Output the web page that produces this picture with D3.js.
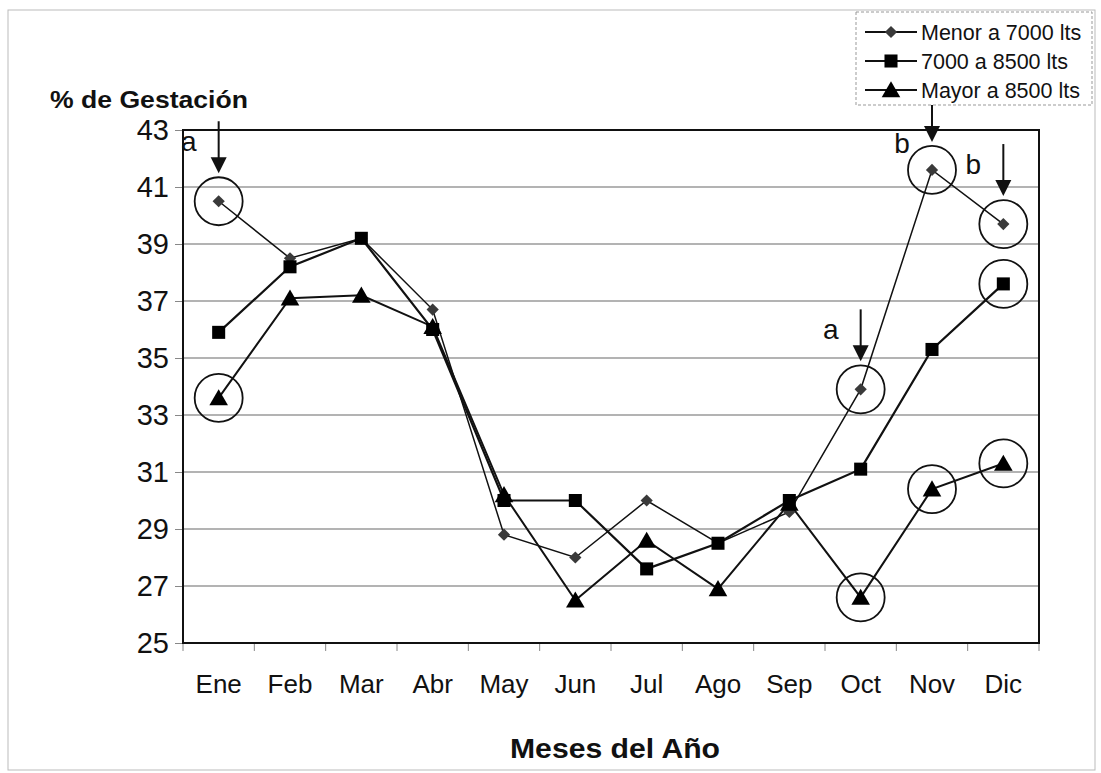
<!DOCTYPE html>
<html>
<head>
<meta charset="utf-8">
<script src="https://cdn.jsdelivr.net/npm/d3@7"></script>
<style>
  body { margin: 0; background: #fff; }
  text { font-family: "Liberation Sans", Arial, sans-serif; fill: #111; }
</style>
</head>
<body>
<div id="chart"></div>
<script>

// data
const months = ["Ene", "Feb", "Mar", "Abr", "May", "Jun", "Jul", "Ago", "Sep", "Oct", "Nov", "Dic"];
const seriesNames = ["Menor a 7000 lts", "7000 a 8500 lts", "Mayor a 8500 lts"];
const menor = [40.5, 38.5, 39.2, 36.7, 28.8, 28.0, 30.0, 28.5, 29.6, 33.9, 41.6, 39.7];
const medio = [35.9, 38.2, 39.2, 36.0, 30.0, 30.0, 27.6, 28.5, 30.0, 31.1, 35.3, 37.6];
const mayor = [33.6, 37.1, 37.2, 36.1, 30.2, 26.5, 28.6, 26.9, 29.9, 26.6, 30.4, 31.3];
const yTicks = [25, 27, 29, 31, 33, 35, 37, 39, 41, 43];

// circled points (series index, month) and arrows with letters
const circled = [[0, "Ene"], [2, "Ene"], [0, "Oct"], [2, "Oct"], [0, "Nov"], [2, "Nov"], [0, "Dic"], [1, "Dic"], [2, "Dic"]];
const arrows = [[0, "Ene", "a"], [0, "Oct", "a"], [0, "Nov", "b"], [0, "Dic", "b"]];

const allSeries = [menor, medio, mayor];

const width = 1101;
const height = 773;
const plot = { left: 183, right: 1039, top: 130, bottom: 643 };

const svg = d3.select("#chart").append("svg")
	.attr("width", width)
	.attr("height", height);

const x = d3.scaleBand().domain(months).range([plot.left, plot.right]);
const y = d3.scaleLinear().domain([25, 43]).range([plot.bottom, plot.top]);
const cx = m => x(m) + x.bandwidth() / 2;

// outer frame
svg.append("rect")
	.attr("x", 8).attr("y", 10)
	.attr("width", 1087).attr("height", 760)
	.attr("fill", "none")
	.attr("stroke", "#bbb")
	.attr("stroke-width", 1);

// grid lines
svg.append("g")
	.selectAll("line")
	.data(yTicks.filter(d => d > 25 && d < 43))
	.enter().append("line")
		.attr("x1", plot.left).attr("x2", plot.right)
		.attr("y1", d => y(d)).attr("y2", d => y(d))
		.attr("stroke", "#9a9a9a")
		.attr("stroke-width", 1.3);

// y axis
const yAxis = svg.append("g")
	.attr("transform", `translate(${plot.left},0)`)
	.call(d3.axisLeft(y).tickValues(yTicks).tickSize(8).tickPadding(6));
yAxis.select(".domain").remove();
yAxis.selectAll(".tick line").attr("stroke", "#888");
yAxis.selectAll(".tick text")
	.style("font-size", "29px")
	.style("font-family", "Liberation Sans, Arial, sans-serif")
	.attr("fill", "#111");

// x axis labels
const xAxis = svg.append("g")
	.attr("transform", `translate(0,${plot.bottom})`)
	.call(d3.axisBottom(x).tickSize(0).tickPadding(32));
xAxis.select(".domain").remove();
xAxis.selectAll(".tick text")
	.style("font-size", "26px")
	.style("font-family", "Liberation Sans, Arial, sans-serif")
	.attr("fill", "#111");

// x ticks at category boundaries
svg.append("g")
	.selectAll("line")
	.data(months.map(m => x(m)).concat([plot.right]))
	.enter().append("line")
		.attr("x1", d => d).attr("x2", d => d)
		.attr("y1", plot.bottom).attr("y2", plot.bottom + 8)
		.attr("stroke", "#888");

// plot border
svg.append("rect")
	.attr("x", plot.left).attr("y", plot.top)
	.attr("width", plot.right - plot.left).attr("height", plot.bottom - plot.top)
	.attr("fill", "none")
	.attr("stroke", "#111")
	.attr("stroke-width", 2);

// titles
svg.append("text")
	.attr("x", 50).attr("y", 108)
	.attr("textLength", 198)
	.attr("lengthAdjust", "spacingAndGlyphs")
	.style("font-size", "24px")
	.style("font-weight", "bold")
	.text("% de Gestación");

svg.append("text")
	.attr("x", 510).attr("y", 758)
	.attr("textLength", 210)
	.attr("lengthAdjust", "spacingAndGlyphs")
	.style("font-size", "28px")
	.style("font-weight", "bold")
	.text("Meses del Año");

// symbols
const symbols = [d3.symbolSquare, d3.symbolSquare, d3.symbolTriangle];
const symSize = [75, 170, 150];
const symRot = [45, 0, 0];
const symFill = ["#3a3a3a", "#000", "#000"];
const lineW = [1.5, 2.2, 2];

const line = d3.line()
	.x((d, i) => cx(months[i]))
	.y(d => y(d));

allSeries.forEach((vals, s) => {
	svg.append("path")
		.datum(vals)
		.attr("d", line)
		.attr("fill", "none")
		.attr("stroke", "#111")
		.attr("stroke-width", lineW[s]);
});

allSeries.forEach((vals, s) => {
	svg.append("g")
		.selectAll("path")
		.data(vals)
		.enter().append("path")
			.attr("d", d3.symbol().type(symbols[s]).size(symSize[s]))
			.attr("transform", (d, i) => `translate(${cx(months[i])},${y(d) + (s === 2 ? 2 : 0)}) rotate(${symRot[s]})`)
			.attr("fill", symFill[s]);
});

// circles round the marked points
svg.append("g")
	.selectAll("circle")
	.data(circled)
	.enter().append("circle")
		.attr("cx", d => cx(d[1]))
		.attr("cy", d => y(allSeries[d[0]][months.indexOf(d[1])]))
		.attr("r", 24)
		.attr("fill", "none")
		.attr("stroke", "#111")
		.attr("stroke-width", 1.8);

// arrows and letters
const letterDy = { Nov: 17 };
arrows.forEach(a => {
	const px = cx(a[1]);
	const py = y(allSeries[a[0]][months.indexOf(a[1])]);
	const tip = py - 28;
	svg.append("line")
		.attr("x1", px).attr("x2", px)
		.attr("y1", py - 80).attr("y2", tip - 10)
		.attr("stroke", "#111")
		.attr("stroke-width", 2);
	svg.append("path")
		.attr("d", `M${px - 8},${tip - 16} L${px + 8},${tip - 16} L${px},${tip} Z`)
		.attr("fill", "#111");
	svg.append("text")
		.attr("x", px - 30).attr("y", letterDy[a[1]] ? py - letterDy[a[1]] : py - 50)
		.attr("text-anchor", "middle")
		.style("font-size", "28px")
		.text(a[2]);
});

// legend
const legend = svg.append("g");
legend.append("rect")
	.attr("x", 856).attr("y", 12)
	.attr("width", 236).attr("height", 93)
	.attr("fill", "#fff")
	.attr("stroke", "#999")
	.attr("stroke-dasharray", "3,2");

seriesNames.forEach((name, s) => {
	const ly = 32 + s * 29;
	legend.append("line")
		.attr("x1", 865).attr("x2", 917)
		.attr("y1", ly).attr("y2", ly)
		.attr("stroke", "#111")
		.attr("stroke-width", 2);
	legend.append("path")
		.attr("d", d3.symbol().type(symbols[s]).size(symSize[s]))
		.attr("transform", `translate(891,${ly + (s === 2 ? 2 : 0)}) rotate(${symRot[s]})`)
		.attr("fill", symFill[s]);
	legend.append("text")
		.attr("x", 921).attr("y", ly)
		.attr("dy", "0.35em")
		.style("font-size", "21.5px")
		.text(name);
});

</script>
</body>
</html>
